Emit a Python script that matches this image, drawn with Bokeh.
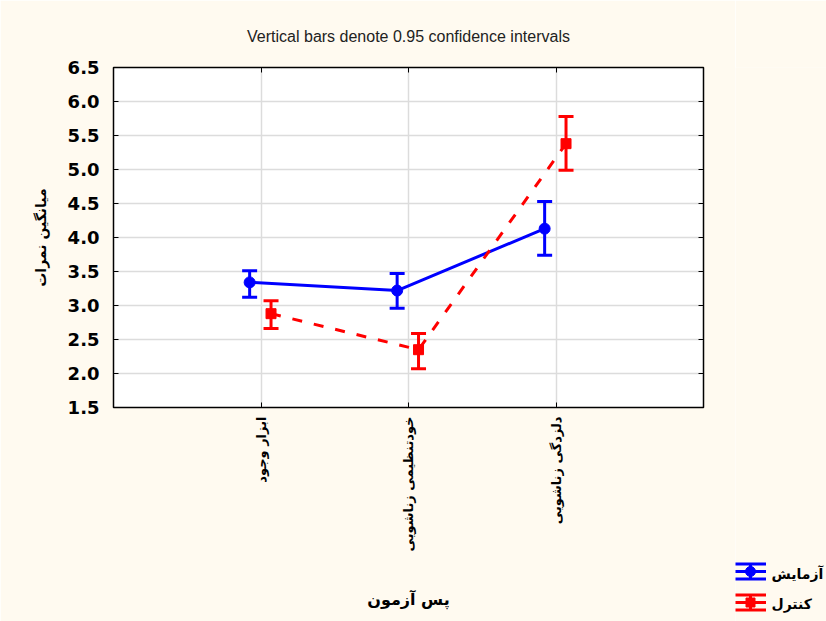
import math
from bokeh.plotting import figure
from bokeh.layouts import row
from bokeh.core.properties import value
from bokeh.models import (ColumnDataSource, Whisker, TeeHead, FixedTicker, LinearAxis, Range1d)
from bokeh.embed import file_html
from bokeh.resources import INLINE

# ---------------- data ----------------
categories = ["ابزار وجود", "خودتنظیمی زناشویی", "دلزدگی زناشویی"]
cat_pos = [1, 2, 3]
series_names = ["آزمایش", "کنترل"]

exp_mean = [3.34, 3.22, 4.13]
exp_lower = [3.12, 2.96, 3.74]
exp_upper = [3.51, 3.47, 4.53]

ctl_mean = [2.88, 2.35, 5.38]
ctl_lower = [2.66, 2.07, 4.99]
ctl_upper = [3.07, 2.59, 5.78]

y_ticks = [1.5, 2.0, 2.5, 3.0, 3.5, 4.0, 4.5, 5.0, 5.5, 6.0, 6.5]

title_text = "Vertical bars denote 0.95 confidence intervals"
x_title = "پس آزمون"
y_title = "میانگین نمرات"

# ---------------- style ----------------
BG = "#FFFAF0"
BLUE = "#0000FF"
RED = "#FF0000"
GRID = "#DCDCDC"
FONT = "DejaVu Sans"

X0, X1 = 0, 4
Y0, Y1 = 1.5, 6.5
FRAME_L, FRAME_T, FRAME_W, FRAME_H = 113, 67, 590, 340
W, H = 735, 621          # main chart
LEG_W = 91               # legend strip on the right
FRAME_B = FRAME_T + FRAME_H

exp_off = -0.077
ctl_off = 0.068

p = figure(width=W, height=H, frame_width=FRAME_W, frame_height=FRAME_H,
           x_range=Range1d(X0, X1), y_range=Range1d(Y0, Y1),
           output_backend="svg", toolbar_location=None,
           min_border_left=FRAME_L, min_border_top=FRAME_T,
           min_border_right=W - FRAME_L - FRAME_W, min_border_bottom=H - FRAME_B)
p.background_fill_color = "white"
p.border_fill_color = BG
p.outline_line_color = "black"
p.outline_line_width = 1.5

p.title.text = title_text
p.title.align = "center"
p.title.text_font = "Liberation Sans"
p.title.text_font_style = "normal"
p.title.text_font_size = "16px"
p.title.text_color = "#222222"
p.title.standoff = 46

# axes
p.xaxis.ticker = FixedTicker(ticks=cat_pos)
p.xaxis.major_label_overrides = {c: t for c, t in zip(cat_pos, categories)}
p.xaxis.major_label_orientation = math.pi / 2
p.xaxis.major_label_text_font = FONT
p.xaxis.major_label_text_font_style = "bold"
p.xaxis.major_label_text_font_size = "13px"
p.xaxis.major_label_standoff = 9
p.xaxis.axis_label = x_title
p.xaxis.axis_label_text_font = FONT
p.xaxis.axis_label_text_font_style = "bold"
p.xaxis.axis_label_text_font_size = "16px"
p.xaxis.axis_label_standoff = 36

p.yaxis.ticker = FixedTicker(ticks=y_ticks)
p.yaxis.major_label_overrides = {t: f"{t:.1f}" for t in y_ticks}
p.yaxis.major_label_text_font = FONT
p.yaxis.major_label_text_font_style = "bold"
p.yaxis.major_label_text_font_size = "18px"
p.yaxis.major_label_standoff = 14
p.yaxis.axis_label = y_title
p.yaxis.axis_label_text_font = FONT
p.yaxis.axis_label_text_font_style = "bold"
p.yaxis.axis_label_text_font_size = "14px"
p.yaxis.axis_label_standoff = 16

for ax in (p.xaxis[0], p.yaxis[0]):
    ax.axis_line_color = "black"
    ax.major_tick_in = 5
    ax.major_tick_out = 0
    ax.minor_tick_line_color = None
    ax.major_tick_line_color = "black"
    ax.major_label_text_color = "black"
    ax.axis_label_text_color = "black"

right_ax = LinearAxis(ticker=FixedTicker(ticks=y_ticks), major_label_text_color=None,
                      major_tick_in=5, major_tick_out=0, minor_tick_line_color=None,
                      major_label_text_font_size="1px")
top_ax = LinearAxis(ticker=FixedTicker(ticks=cat_pos), major_label_text_color=None,
                    major_tick_in=5, major_tick_out=0, minor_tick_line_color=None,
                    major_label_text_font_size="1px")
p.add_layout(right_ax, "right")
p.add_layout(top_ax, "above")

p.xgrid.grid_line_color = GRID
p.ygrid.grid_line_color = GRID
p.xgrid.grid_line_width = 1.5
p.ygrid.grid_line_width = 1.5

# data sources
src_e = ColumnDataSource(dict(x=[c + exp_off for c in cat_pos], m=exp_mean, lo=exp_lower, up=exp_upper))
src_c = ColumnDataSource(dict(x=[c + ctl_off for c in cat_pos], m=ctl_mean, lo=ctl_lower, up=ctl_upper))

p.line("x", "m", source=src_e, line_color=BLUE, line_width=3)
p.line("x", "m", source=src_c, line_color=RED, line_width=3, line_dash="10 12")

for src, col in ((src_e, BLUE), (src_c, RED)):
    w = Whisker(source=src, base="x", lower="lo", upper="up", dimension="height",
                line_color=col, line_width=3,
                lower_head=TeeHead(size=15, line_color=col, line_width=3),
                upper_head=TeeHead(size=15, line_color=col, line_width=3))
    p.add_layout(w)

p.scatter("x", "m", source=src_e, marker="circle", size=11, fill_color=BLUE, line_color=BLUE)
p.scatter("x", "m", source=src_c, marker="square", size=10, fill_color=RED, line_color=RED)

# ---------------- legend strip (pixel-space figure) ----------------
# frame of this strip starts at FRAME_T (same as the chart's frame) and runs to the bottom
lg = figure(frame_width=LEG_W, frame_height=H - FRAME_T,
            x_range=Range1d(W, W + LEG_W), y_range=Range1d(H, FRAME_T),
            output_backend="svg", toolbar_location=None,
            x_axis_location=None, y_axis_location=None,
            min_border_left=0, min_border_right=0, min_border_top=FRAME_T, min_border_bottom=0)
lg.background_fill_color = BG
lg.border_fill_color = BG
lg.outline_line_color = None
lg.xgrid.visible = False
lg.ygrid.visible = False

icon_x = 750
icon_hw = 15.5
for cy, col, marker, size in ((571, BLUE, "circle", 10), (602, RED, "square", 9)):
    ys = [cy - 7.5, cy, cy + 7.5]
    lg.segment(x0=[icon_x - icon_hw] * 3, x1=[icon_x + icon_hw] * 3, y0=ys, y1=ys,
               line_color=col, line_width=3)
    lg.segment(x0=[icon_x], x1=[icon_x], y0=[cy - 7.5], y1=[cy + 7.5], line_color=col, line_width=3)
    lg.scatter(x=[icon_x], y=[cy], marker=marker, size=size, fill_color=col, line_color=col)

lg.text(x=[771, 771], y=[573, 603], text=series_names, text_font=value(FONT),
        text_font_style="bold", text_font_size="14px", text_align="left",
        text_baseline="middle", text_color="black")

layout = row(p, lg, spacing=0)
open("out.html", "w").write(file_html(layout, INLINE))
